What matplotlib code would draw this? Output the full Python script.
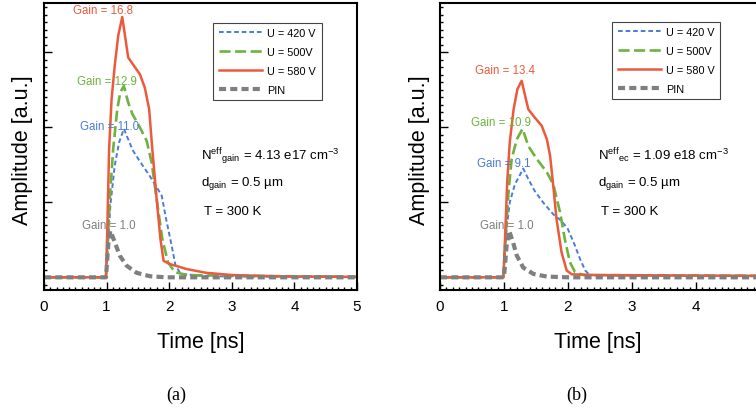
import matplotlib
matplotlib.use("Agg")
import matplotlib.pyplot as plt
from matplotlib.ticker import MultipleLocator

plt.rcParams['font.family'] = ['Liberation Sans', 'DejaVu Sans']
plt.rcParams['mathtext.fontset'] = 'custom'
plt.rcParams['mathtext.rm'] = 'Liberation Sans'
plt.rcParams['mathtext.it'] = 'Liberation Sans:italic'
plt.rcParams['mathtext.bf'] = 'Liberation Sans:bold'

# ---------------- data (time in ns, amplitude in a.u.) ----------------
# panel (a)
a_blue_t = [0, 0.99, 1.01, 1.06, 1.13, 1.2, 1.276, 1.345, 1.42, 1.56, 1.69, 1.80, 1.88, 1.95, 2.04, 2.10, 2.18, 2.49, 3.0, 5.0]
a_blue_y = [0, 0, 0.24, 0.96, 1.49, 1.80, 1.98, 1.84, 1.69, 1.51, 1.35, 1.20, 1.09, 0.78, 0.42, 0.16, 0.05, 0.02, 0.01, 0.005]
a_green_t = [0, 0.99, 1.01, 1.05, 1.105, 1.17, 1.22, 1.276, 1.345, 1.41, 1.53, 1.64, 1.72, 1.80, 1.89, 1.98, 2.09, 2.28, 3.02, 5.0]
a_green_y = [0, 0, 0.33, 1.04, 1.71, 2.24, 2.47, 2.55, 2.33, 2.18, 2.00, 1.82, 1.53, 1.04, 0.51, 0.20, 0.07, 0.03, 0.02, 0.008]
a_red_t = [0, 0.99, 1.01, 1.04, 1.08, 1.13, 1.185, 1.25, 1.345, 1.42, 1.53, 1.61, 1.68, 1.73, 1.80, 1.86, 1.91, 2.0, 2.28, 2.59, 3.02, 3.82, 5.0]
a_red_y = [0, 0, 0.60, 1.71, 2.38, 2.82, 3.22, 3.47, 2.93, 2.84, 2.71, 2.53, 2.24, 1.71, 1.04, 0.51, 0.22, 0.18, 0.11, 0.06, 0.03, 0.012, 0.005]
a_pin_t = [0, 0.99, 1.03, 1.06, 1.13, 1.21, 1.32, 1.48, 1.69, 1.95, 5.0]
a_pin_y = [0, 0, 0.47, 0.62, 0.47, 0.29, 0.155, 0.06, 0.015, 0, 0]

# panel (b)
b_blue_t = [0, 0.99, 1.04, 1.09, 1.17, 1.24, 1.30, 1.38, 1.48, 1.61, 1.77, 1.90, 2.00, 2.11, 2.19, 2.27, 2.34, 3.0, 5.0]
b_blue_y = [0, 0, 0.64, 1.00, 1.24, 1.35, 1.45, 1.31, 1.15, 1.00, 0.84, 0.75, 0.64, 0.42, 0.24, 0.09, 0.03, 0.02, 0.015]
b_green_t = [0, 0.99, 1.03, 1.07, 1.12, 1.20, 1.29, 1.38, 1.51, 1.67, 1.77, 1.875, 1.95, 2.03, 2.11, 2.24, 5.0]
b_green_y = [0, 0, 0.60, 1.13, 1.58, 1.84, 1.98, 1.75, 1.58, 1.40, 1.24, 0.87, 0.51, 0.20, 0.07, 0.03, 0.02]
b_red_t = [0, 0.99, 1.02, 1.05, 1.09, 1.15, 1.21, 1.276, 1.33, 1.38, 1.48, 1.59, 1.67, 1.72, 1.77, 1.82, 1.90, 1.98, 2.06, 2.45, 5.0]
b_red_y = [0, 0, 0.60, 1.27, 1.80, 2.24, 2.51, 2.62, 2.42, 2.24, 2.13, 2.02, 1.84, 1.62, 1.22, 0.78, 0.33, 0.09, 0.04, 0.03, 0.02]
b_pin_t = [0, 1.0, 1.04, 1.08, 1.14, 1.20, 1.30, 1.46, 1.67, 2.0, 5.0]
b_pin_y = [0, 0, 0.42, 0.62, 0.47, 0.29, 0.13, 0.045, 0.01, 0, 0]

legend_labels = ["U = 420 V", "U = 500V", "U = 580 V", "PIN"]
a_gain_labels = ["Gain = 11.0", "Gain = 12.9", "Gain = 16.8", "Gain = 1.0"]
b_gain_labels = ["Gain = 9.1", "Gain = 10.9", "Gain = 13.4", "Gain = 1.0"]
a_params = [r"N$^{\rm eff}{}_{\rm gain}$ = 4.13 e17 cm$^{-3}$", r"d$_{\rm gain}$ = 0.5 µm", "T = 300 K"]
b_params = [r"N$^{\rm eff}{}_{\rm ec}$ = 1.09 e18 cm$^{-3}$", r"d$_{\rm gain}$ = 0.5 µm", "T = 300 K"]

# ---------------- styles ----------------
colors = ['#4B7BD8', '#6DB33F', '#EB5A3C', '#7F7F7F']
lws = [1.4, 1.9, 1.8, 3.0]
styles = [(0, (2.4, 1.5)), (0, (4.2, 1.7)), '-', (0, (1.7, 1.0))]

fig = plt.figure(figsize=(7.56, 4.14), dpi=100)
W, H = 756, 414

def make_axes(x0, x1):
    return fig.add_axes([x0 / W, (H - 291.3) / H, (x1 - x0) / W, 287.3 / H])

axA = make_axes(44, 357)
axB = make_axes(440, 760)

panels = [
    (axA, [(a_blue_t, a_blue_y), (a_green_t, a_green_y), (a_red_t, a_red_y), (a_pin_t, a_pin_y)],
     a_gain_labels, [(1.05, 2.02), (1.0, 2.62), (0.936, 3.57), (1.04, 0.70)],
     a_params, [(2.51, 1.57), (2.51, 1.23), (2.55, 0.85)], (0.541, 0.932), -10.7 / 313, 0.5),
    (axB, [(b_blue_t, b_blue_y), (b_green_t, b_green_y), (b_red_t, b_red_y), (b_pin_t, b_pin_y)],
     b_gain_labels, [(0.99, 1.53), (0.96, 2.07), (1.02, 2.77), (1.04, 0.70)],
     b_params, [(2.47, 1.57), (2.47, 1.23), (2.51, 0.85)], (0.538, 0.935), -10.0 / 320, 0.494),
]

for ax, series, gl, glpos, params, ppos, legpos, ylx, xlx in panels:
    handles = []
    for (t, y), c, lw, ls, lab in zip(series, colors, lws, styles, legend_labels):
        h, = ax.plot(t, y, color=c, lw=lw, linestyle=ls, label=lab, dash_capstyle='butt')
        handles.append(h)
    for txt, (gx, gy), c in zip(gl, glpos, colors):
        ax.text(gx, gy, txt, color=c, fontsize=8.3, ha='center', va='center', zorder=5)
    for txt, (px, py) in zip(params, ppos):
        ax.text(px, py, txt, fontsize=9.5, ha='left', va='baseline', color='black')
    ax.set_xlim(0, 5)
    ax.set_ylim(-0.173, 3.657)
    ax.xaxis.set_major_locator(MultipleLocator(1))
    ax.xaxis.set_minor_locator(MultipleLocator(0.1))
    ax.yaxis.set_major_locator(MultipleLocator(1))
    ax.yaxis.set_minor_locator(MultipleLocator(0.1))
    ax.tick_params(which='both', direction='in', top=False, right=False, width=1.0, color='black')
    ax.tick_params(which='major', length=5.5, labelsize=11, pad=6)
    ax.tick_params(which='minor', length=2.5)
    ax.tick_params(axis='y', labelleft=False)
    for s in ax.spines.values():
        s.set_linewidth(1.5)
    ax.set_ylabel("Amplitude [a.u.]", fontsize=15.5)
    ax.yaxis.set_label_coords(ylx, 0.49)
    ax.set_xlabel("Time [ns]", fontsize=15.5)
    ax.xaxis.set_label_coords(xlx, -0.143)
    leg = ax.legend(handles=handles, loc='upper left', bbox_to_anchor=legpos,
                    borderaxespad=0, fontsize=7.8, handlelength=4.0, handletextpad=0.5,
                    labelspacing=0.82, borderpad=0.5, fancybox=False, framealpha=1,
                    edgecolor='#444444', frameon=True)
    leg.get_frame().set_linewidth(0.8)

fig.text(176 / W, 1 - 395 / H, "(a)", fontsize=13, family='Liberation Serif', ha='center', va='center')
fig.text(577 / W, 1 - 395 / H, "(b)", fontsize=13, family='Liberation Serif', ha='center', va='center')

fig.savefig("out.png", dpi=100)
